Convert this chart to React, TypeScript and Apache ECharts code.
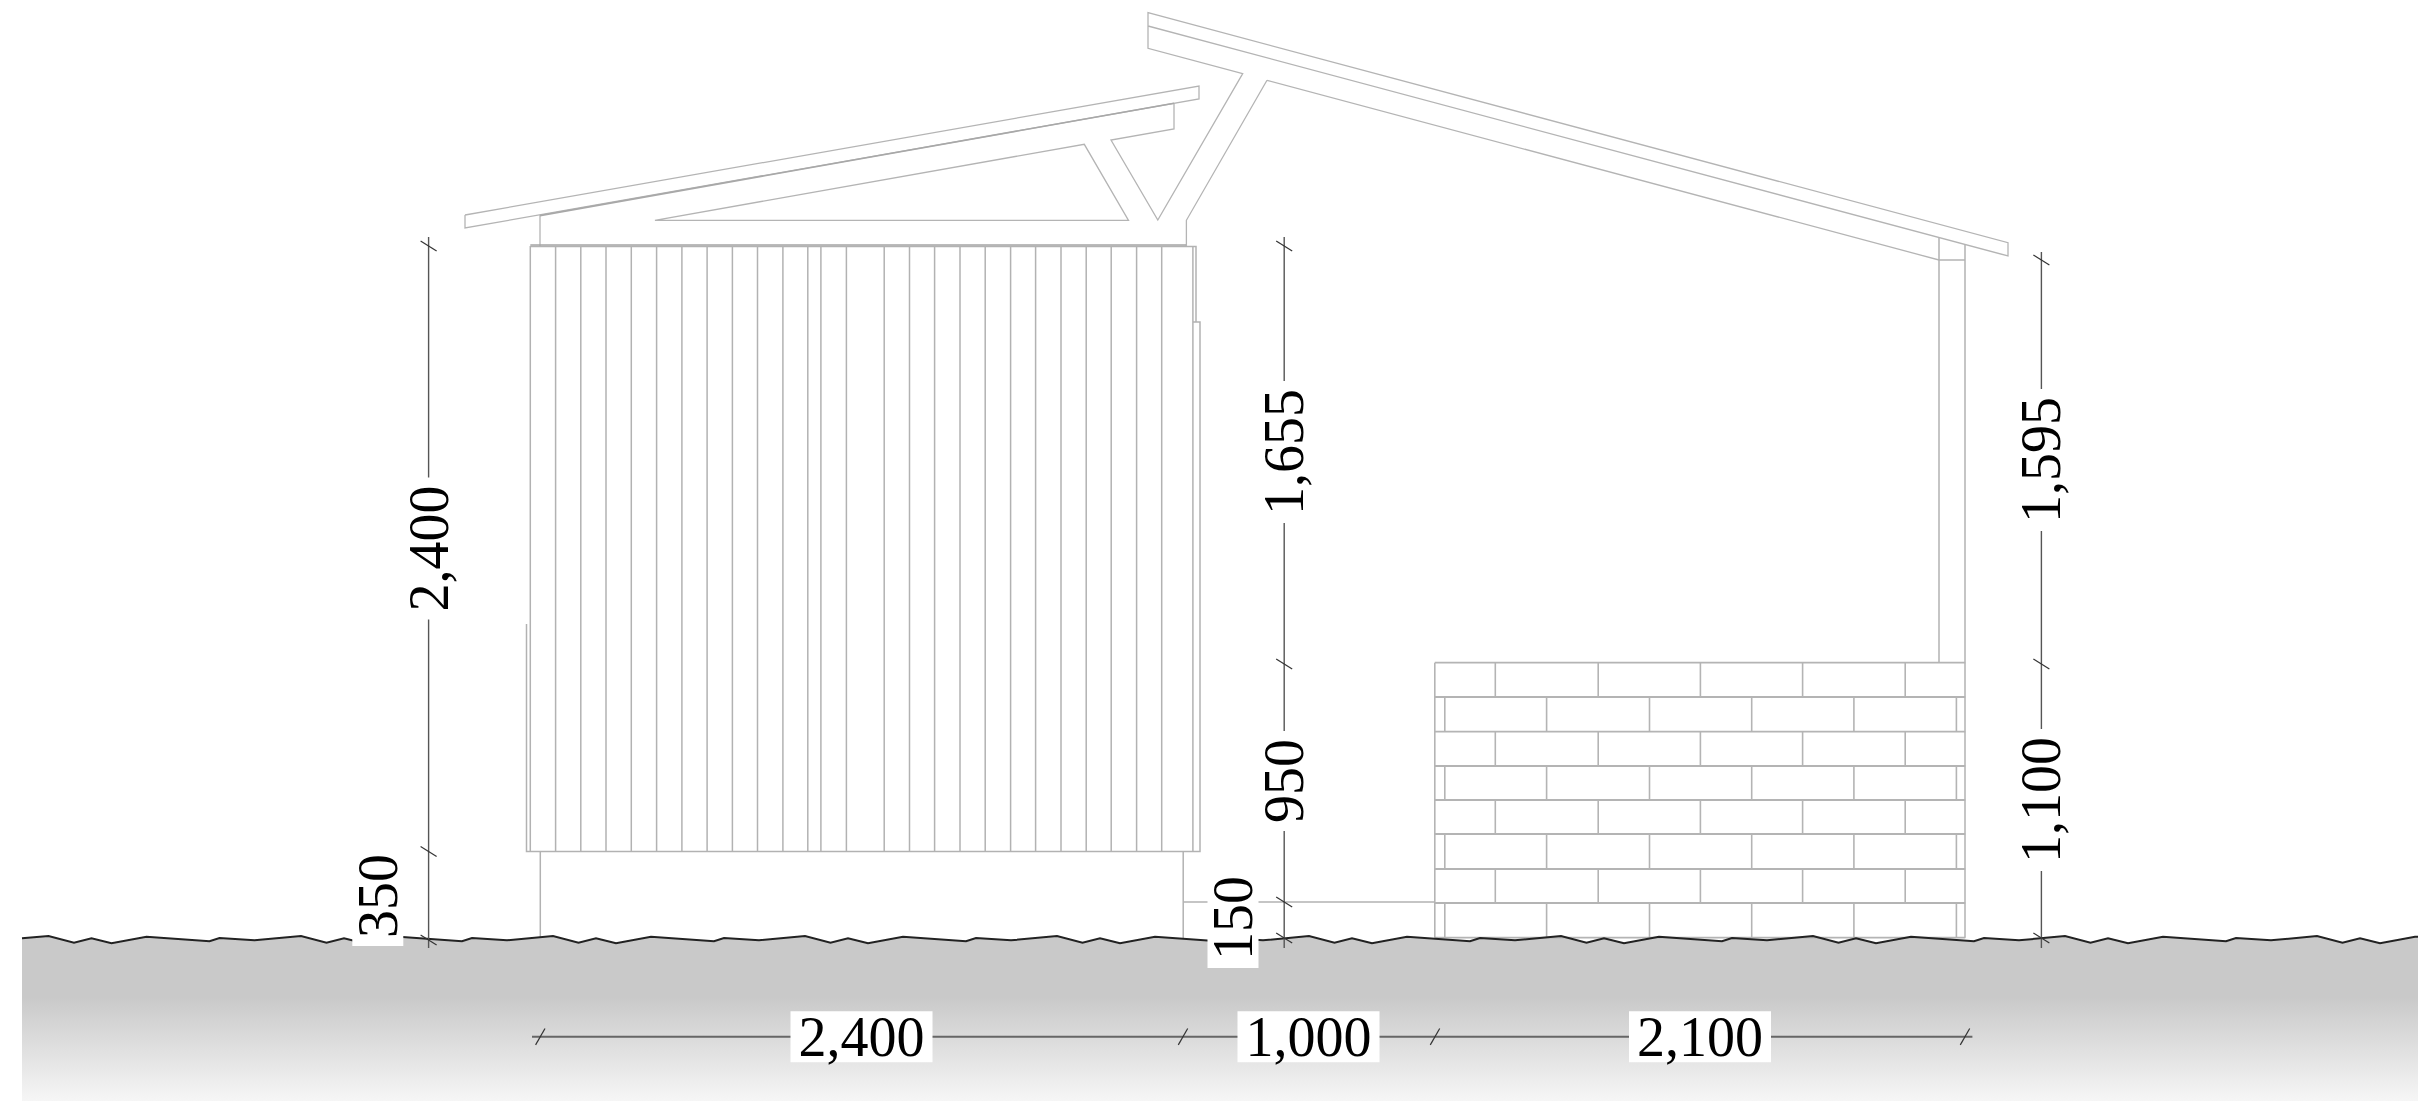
import React, { useEffect, useRef } from "react";
import * as echarts from "echarts";

type Pt = number[];

const groundX = [22,48.5,74,91.5,111.5,146.5,209.5,219.5,254.5,301,326.5,344,364,399,462,472,507,553,578.5,596,616,651,714,724,759,805,830.5,848,868,903,966,976,1011,1057,1082.5,1100,1120,1155,1218,1228,1263,1309,1334.5,1352,1372,1407,1470,1480,1515,1561,1586.5,1604,1624,1659,1722,1732,1767,1813,1838.5,1856,1876,1911,1974,1984,2019,2065,2090.5,2108,2128,2163,2226,2236,2271,2317,2342.5,2360,2380,2415,2418];
const groundY = [938.3,936,942.7,938.3,943.3,936.7,941.3,938,940.3,936,942.7,938.3,943.3,936.7,941.3,938,940.3,936,942.7,938.3,943.3,936.7,941.3,938,940.3,936,942.7,938.3,943.3,936.7,941.3,938,940.3,936,942.7,938.3,943.3,936.7,941.3,938,940.3,936,942.7,938.3,943.3,936.7,941.3,938,940.3,936,942.7,938.3,943.3,936.7,941.3,938,940.3,936,942.7,938.3,943.3,936.7,941.3,938,940.3,936,942.7,938.3,943.3,936.7,941.3,938,940.3,936,942.7,938.3,943.3,936.7,936.8];
const groundBottom = 1101;

const lowerRafter: Pt[] = [[465,215],[1199,86],[1199,99],[465,228],[465,215]];
const lowerFrame: Pt[] = [[540,215],[540,246]];
const lowerBeamTop: Pt[] = [[540,215.6],[1174,103.3]];
const lowerBeamTail: Pt[] = [[1174,103.3],[1174,129],[1111,140],[1157.8,220],[1242.7,73.7],[1148,48.3],[1148,12.7],[2008,242.7],[2008,256],[1148,26]];
const upperBeamUnder: Pt[] = [[1267,80.3],[1939,260],[1965,260]];
const innerStrut: Pt[] = [[1267,80.3],[1186.4,220.3],[1186.4,246]];
const triangle: Pt[] = [[654.9,220.3],[1128.5,220.3],[1084.3,144.3],[654.9,220.3]];
const postLeft: Pt[] = [[1939,238],[1939,662.7]];
const postRight: Pt[] = [[1965,245],[1965,937.7]];

const boardX = [530.3,555.6,580.8,606,631.3,656.6,681.9,707.1,732.4,757.5,782.9,807.8,820.9,846.4,884.2,909.5,934.6,960,985.2,1010.6,1035.6,1061,1086.2,1111.2,1136.6,1161.7,1192.9,1200];
const sidingTop = 246;
const sidingBottom = 851.5;
const sidingOutline: Pt[] = [[526.5,624],[526.5,851.5],[1200,851.5],[1200,322],[1193,322]];
const sidingTopLine: Pt[] = [[530.3,246.5],[1196,246.5],[1196,322]];
const sidingTopLine2: Pt[] = [[530.3,245],[1186,245]];
const footLeft: Pt[] = [[540.3,851.5],[540.3,938]];
const footRight: Pt[] = [[1183.2,851.5],[1183.2,938]];
const lowWall: Pt[] = [[1183.2,902],[1435,902]];

const brickLeft = 1434.8;
const brickRight = 1965.3;
const brickCourseY = [662.7,697,731.7,766,800,834,869,903,937.7];
const brickJointsA = [1495.3,1598.2,1700.4,1802.6,1905.2];
const brickJointsB = [1444.8,1546.6,1649.5,1751.7,1853.9,1956.4];

const dimLeft: Pt[] = [[428.6,237],[428.6,948]];
const dimMiddle: Pt[] = [[1284.2,237],[1284.2,948]];
const dimRight: Pt[] = [[2041.4,252],[2041.4,948]];
const dimBottom: Pt[] = [[532,1036.7],[1972.4,1036.7]];
const verticalTicks: Pt[] = [[428.6,246],[428.6,851.5],[428.6,940],[1284.2,246],[1284.2,664],[1284.2,902],[1284.2,938],[2041.4,260],[2041.4,664],[2041.4,938]];
const bottomTicks: Pt[] = [[540.3,1036.7],[1183,1036.7],[1435,1036.7],[1965,1036.7]];

const rotatedLabels = ["2,400","350","1,655","950","150","1,595","1,100"];
const rotatedLabelX = [428.6,377.8,1284.2,1284.2,1233,2041.4,2041.4];
const rotatedLabelY = [548.5,896,452,781,918,460,800];
const flatLabels = ["2,400","1,000","2,100"];
const flatLabelX = [861.5,1308.5,1700];
const flatLabelY = [1036.7,1036.7,1036.7];

const FONT = "'Liberation Serif', serif";
const BUILD = "#b2b2b2";

function lines(polys: Pt[][], stroke: string, lineWidth: number, z = 2) {
  return {
    type: "custom",
    coordinateSystem: "cartesian2d",
    clip: false,
    silent: true,
    z,
    data: polys.map((_, i) => [i, 0]),
    encode: { x: 0, y: 1 },
    renderItem: (params: any, api: any) => ({
      type: "polyline",
      shape: { points: polys[params.dataIndex].map((p) => api.coord(p)) },
      style: { stroke, lineWidth, fill: "none" },
    }),
  };
}

function App() {
  const ref = useRef<HTMLDivElement | null>(null);
  useEffect(() => {
    document.body.style.margin = "0";
    const chart = echarts.init(ref.current!, undefined, { renderer: "svg" });

    const boards: Pt[][] = boardX.slice(0, -2).map((x) => [[x, sidingTop], [x, sidingBottom]]);
    boards.push([[boardX[26], sidingTop], [boardX[26], sidingBottom]]);
    const courses: Pt[][] = brickCourseY.map((y) => [[brickLeft, y], [brickRight, y]]);
    const joints: Pt[][] = [[[brickLeft, brickCourseY[0]], [brickLeft, brickCourseY[8]]]];
    for (let r = 0; r < 8; r++) {
      const xs = r % 2 === 0 ? brickJointsA : brickJointsB;
      xs.forEach((x) => joints.push([[x, brickCourseY[r]], [x, brickCourseY[r + 1]]]));
    }
    const groundLine: Pt[] = groundX.map((x, i) => [x, groundY[i]]);
    const groundPoly: Pt[] = [...groundLine, [2418, groundBottom], [22, groundBottom]];

    const labelSeries = (texts: string[], xs: number[], ys: number[], rotation: number) => ({
      type: "custom",
      coordinateSystem: "cartesian2d",
      clip: false,
      silent: true,
      z: 5,
      data: texts.map((_, i) => [xs[i], ys[i]]),
      encode: { x: 0, y: 1 },
      renderItem: (params: any, api: any) => {
        const c = api.coord([api.value(0), api.value(1)]);
        return {
          type: "text",
          x: c[0],
          y: c[1],
          rotation,
          style: {
            text: texts[params.dataIndex],
            x: 0,
            y: 0,
            align: "center",
            verticalAlign: "middle",
            fontFamily: FONT,
            fontSize: 56,
            fill: "#000",
            backgroundColor: "#fff",
            padding: [0, 8],
            lineHeight: 51,
          },
        };
      },
    });

    const tickSeries = (pts: Pt[], dx1: number, dy1: number, dx2: number, dy2: number) => ({
      type: "custom",
      coordinateSystem: "cartesian2d",
      clip: false,
      silent: true,
      z: 4,
      data: pts,
      encode: { x: 0, y: 1 },
      renderItem: (_: any, api: any) => {
        const c = api.coord([api.value(0), api.value(1)]);
        return {
          type: "line",
          shape: { x1: c[0] + dx1, y1: c[1] + dy1, x2: c[0] + dx2, y2: c[1] + dy2 },
          style: { stroke: "#333", lineWidth: 1.2 },
        };
      },
    });

    chart.setOption({
      animation: false,
      backgroundColor: "#fff",
      grid: { left: 0, right: 0, top: 0, bottom: 0 },
      xAxis: { type: "value", min: 0, max: 2418, show: false },
      yAxis: { type: "value", min: 0, max: 1101, inverse: true, show: false },
      series: [
        {
          type: "custom",
          coordinateSystem: "cartesian2d",
          clip: false,
          silent: true,
          z: 1,
          data: [[0, 0]],
          encode: { x: 0, y: 1 },
          renderItem: (_: any, api: any) => ({
            type: "polygon",
            shape: { points: groundPoly.map((p) => api.coord(p)) },
            style: {
              fill: new echarts.graphic.LinearGradient(0, 0, 0, 1, [
                { offset: 0, color: "#c9c9c9" },
                { offset: 0.37, color: "#c9c9c9" },
                { offset: 1, color: "#f6f6f6" },
              ]),
            },
          }),
        },
        lines([lowerRafter, lowerFrame, lowerBeamTail, upperBeamUnder, innerStrut, triangle], "#b4b4b4", 1.3),
        lines([lowerBeamTop], "#a8a8a8", 1.6),
        lines(boards, BUILD, 1.5),
        lines([sidingOutline, sidingTopLine, footLeft, footRight, lowWall, postLeft, postRight], BUILD, 1.5),
        lines([sidingTopLine2], "#a5a5a5", 1.5),
        lines(courses, "#b4b4b4", 1.8),
        lines(joints, "#b4b4b4", 1.6),
        lines([groundLine], "#222", 2, 3),
        lines([dimLeft, dimMiddle, dimRight], "#555", 1.4, 4),
        lines([dimBottom], "#666", 2, 4),
        tickSeries(verticalTicks, -8, -5, 8, 5),
        tickSeries(bottomTicks, -4.7, 8.2, 4.7, -8.2),
        labelSeries(rotatedLabels, rotatedLabelX, rotatedLabelY, Math.PI / 2),
        labelSeries(flatLabels, flatLabelX, flatLabelY, 0),
      ],
    });
    return () => chart.dispose();
  }, []);
  return <div ref={ref} style={{ position: "absolute", left: 0, top: 0, width: 2418, height: 1101 }} />;
}

export default App;
